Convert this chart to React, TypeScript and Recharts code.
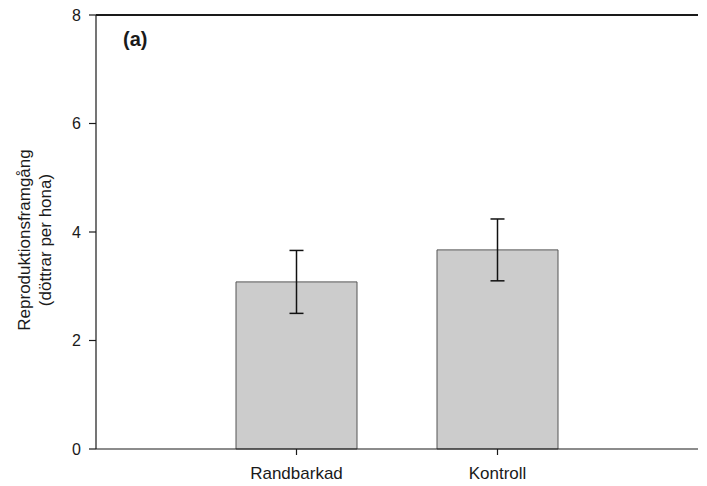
import { BarChart, Bar, XAxis, YAxis, ErrorBar, ReferenceLine } from 'recharts';

const categories = ['Randbarkad', 'Kontroll'];
const means = [3.08, 3.67];
const errors = [0.58, 0.57];
const yTicks = [0, 2, 4, 6, 8];

const data = categories.map((name, i) => ({ name, mean: means[i], err: errors[i] }));

const FONT = '"Liberation Sans", Arial, sans-serif';
const INK = '#1a1a1a';

const YLabel = ({ viewBox }: any) => {
  const cy = viewBox.y + viewBox.height / 2 + 8;
  return (
    <g fontFamily={FONT} fontSize={17} fill={INK} textAnchor="middle">
      <text x={0} y={0} transform={`translate(30, ${cy}) rotate(-90)`}>Reproduktionsframgång</text>
      <text x={0} y={0} transform={`translate(51, ${cy}) rotate(-90)`}>(döttrar per hona)</text>
    </g>
  );
};

const PanelTag = ({ viewBox }: any) => (
  <text x={viewBox.x + 27} y={viewBox.y + 31} fontFamily={FONT} fontSize={20} fontWeight="bold" fill={INK}>
    (a)
  </text>
);

export default function App() {
  return (
    <div style={{ position: 'absolute', left: 0, top: 0, background: '#fff' }}>
      <BarChart
        width={707}
        height={486}
        data={data}
        margin={{ top: 15, right: 9, left: 0, bottom: 0 }}
      >
        <XAxis
          dataKey="name"
          height={37}
          padding={{ left: 100, right: 100 }}
          stroke={INK}
          strokeWidth={1.2}
          tickSize={6}
          tickMargin={12}
          tick={{ fill: INK, fontSize: 17, fontFamily: FONT }}
        />
        <YAxis
          width={96}
          domain={[0, 8]}
          ticks={yTicks}
          stroke={INK}
          strokeWidth={1.2}
          tickSize={7}
          tickMargin={8}
          tick={{ fill: INK, fontSize: 16, fontFamily: FONT }}
          label={<YLabel />}
        />
        <YAxis
          yAxisId="r"
          orientation="right"
          width={0}
          domain={[0, 8]}
          tick={false}
          tickLine={false}
          stroke="#333"
          strokeWidth={1.5}
        />
        <ReferenceLine y={8} stroke={INK} strokeWidth={2} label={<PanelTag />} />
        <Bar
          dataKey="mean"
          barSize={121}
          fill="#cccccc"
          stroke="#555"
          strokeWidth={1}
          isAnimationActive={false}
        >
          <ErrorBar dataKey="err" width={7} stroke="#111" strokeWidth={1.5} />
        </Bar>
      </BarChart>
    </div>
  );
}
